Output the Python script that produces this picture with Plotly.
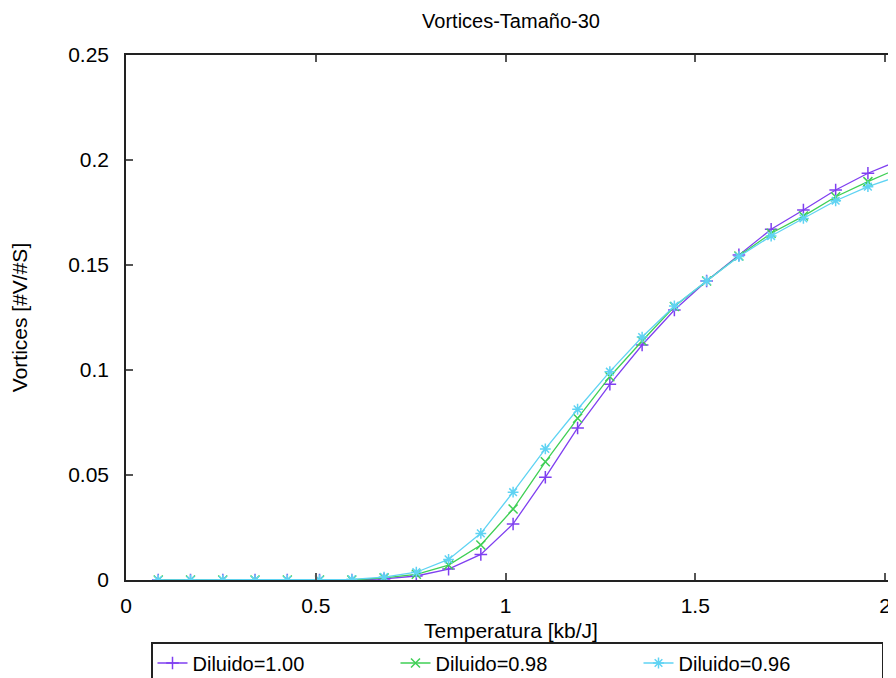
import plotly.graph_objects as go

# Temperature values (kb/J)
temperatura = [0.085, 0.17, 0.255, 0.34, 0.425, 0.51, 0.595, 0.68, 0.765, 0.85,
               0.935, 1.02, 1.105, 1.19, 1.275, 1.36, 1.445, 1.53, 1.615, 1.70,
               1.785, 1.87, 1.955, 2.04]

vort_100 = [0, 0, 0, 0, 0, 0, 0, 0.0005, 0.0019, 0.0052,
            0.0122, 0.0267, 0.0489, 0.0724, 0.0932, 0.1119, 0.1286, 0.1424, 0.1548, 0.1670,
            0.1762, 0.1857, 0.1937, 0.2000]
vort_098 = [0, 0, 0, 0, 0, 0, 0, 0.0010, 0.0027, 0.0071,
            0.0167, 0.0338, 0.0563, 0.0770, 0.0968, 0.1138, 0.1302, 0.1424, 0.1543, 0.1651,
            0.1733, 0.1825, 0.1897, 0.1964]
vort_096 = [0, 0, 0, 0, 0, 0, 0.0003, 0.0014, 0.0037, 0.0098,
            0.0222, 0.0418, 0.0624, 0.0813, 0.0992, 0.1157, 0.1305, 0.1424, 0.1540, 0.1638,
            0.1722, 0.1806, 0.1873, 0.1926]

series_names = ["Diluido=1.00", "Diluido=0.98", "Diluido=0.96"]
x_ticks = [0, 0.5, 1, 1.5, 2]
x_tick_text = ["0", "0.5", "1", "1.5", "2"]
y_ticks = [0, 0.05, 0.1, 0.15, 0.2, 0.25]
y_tick_text = ["0", "0.05", "0.1", "0.15", "0.2", "0.25"]

colors = ["#7f3ff0", "#3fcf55", "#5fd3f3"]
symbols = ["cross-thin", "x-thin", "asterisk"]

fig = go.Figure()
for name, vals, col, sym in zip(series_names, [vort_100, vort_098, vort_096], colors, symbols):
    fig.add_trace(go.Scatter(
        x=temperatura, y=vals, name=name, mode="lines+markers",
        line=dict(color=col, width=1.3),
        marker=dict(symbol=sym, size=9, color=col, line=dict(color=col, width=1.5)),
        cliponaxis=True,
    ))

font_family = "Liberation Sans, Arial, sans-serif"

# page body has an 8px margin, so the figure is 888x670 placed at (8, 8)
W, H = 888, 670

fig.update_layout(
    width=W, height=H,
    margin=dict(l=118, r=0, t=47, b=98, autoexpand=False),
    paper_bgcolor="white", plot_bgcolor="white",
    font=dict(family=font_family, size=21, color="black"),
    title=dict(text="Vortices-Tamaño-30", x=0.5, xref="paper", y=1 - 13 / H, yref="container",
               yanchor="middle", xanchor="center", font=dict(size=20)),
    showlegend=True,
    legend=dict(orientation="h", xref="container", yref="container",
                x=143 / W, xanchor="left", y=1 - 634 / H, yanchor="top",
                bordercolor="#222222", borderwidth=1.5, bgcolor="white",
                entrywidth=198, entrywidthmode="pixels",
                font=dict(size=20), tracegroupgap=0),
)

fig.update_xaxes(
    range=[0, 2.029], tickvals=x_ticks, ticktext=x_tick_text,
    showgrid=False, zeroline=False, automargin=False,
    showline=True, linecolor="#222222", linewidth=1.5, mirror="ticks",
    ticks="inside", ticklen=7, tickcolor="#555555", tickwidth=1.5,
    tickfont=dict(size=21), ticklabelstandoff=6,
    title=dict(text="Temperatura [kb/J]", font=dict(size=21), standoff=13),
)
fig.update_yaxes(
    range=[0, 0.25], tickvals=y_ticks, ticktext=y_tick_text,
    showgrid=False, zeroline=False, automargin=False,
    showline=True, linecolor="#222222", linewidth=1.5, mirror=False,
    ticks="inside", ticklen=7, tickcolor="#555555", tickwidth=1.5,
    tickfont=dict(size=21), ticklabelstandoff=11,
    title=dict(text="Vortices [#V/#S]", font=dict(size=21), standoff=36),
)

fig.write_html("out.html")
